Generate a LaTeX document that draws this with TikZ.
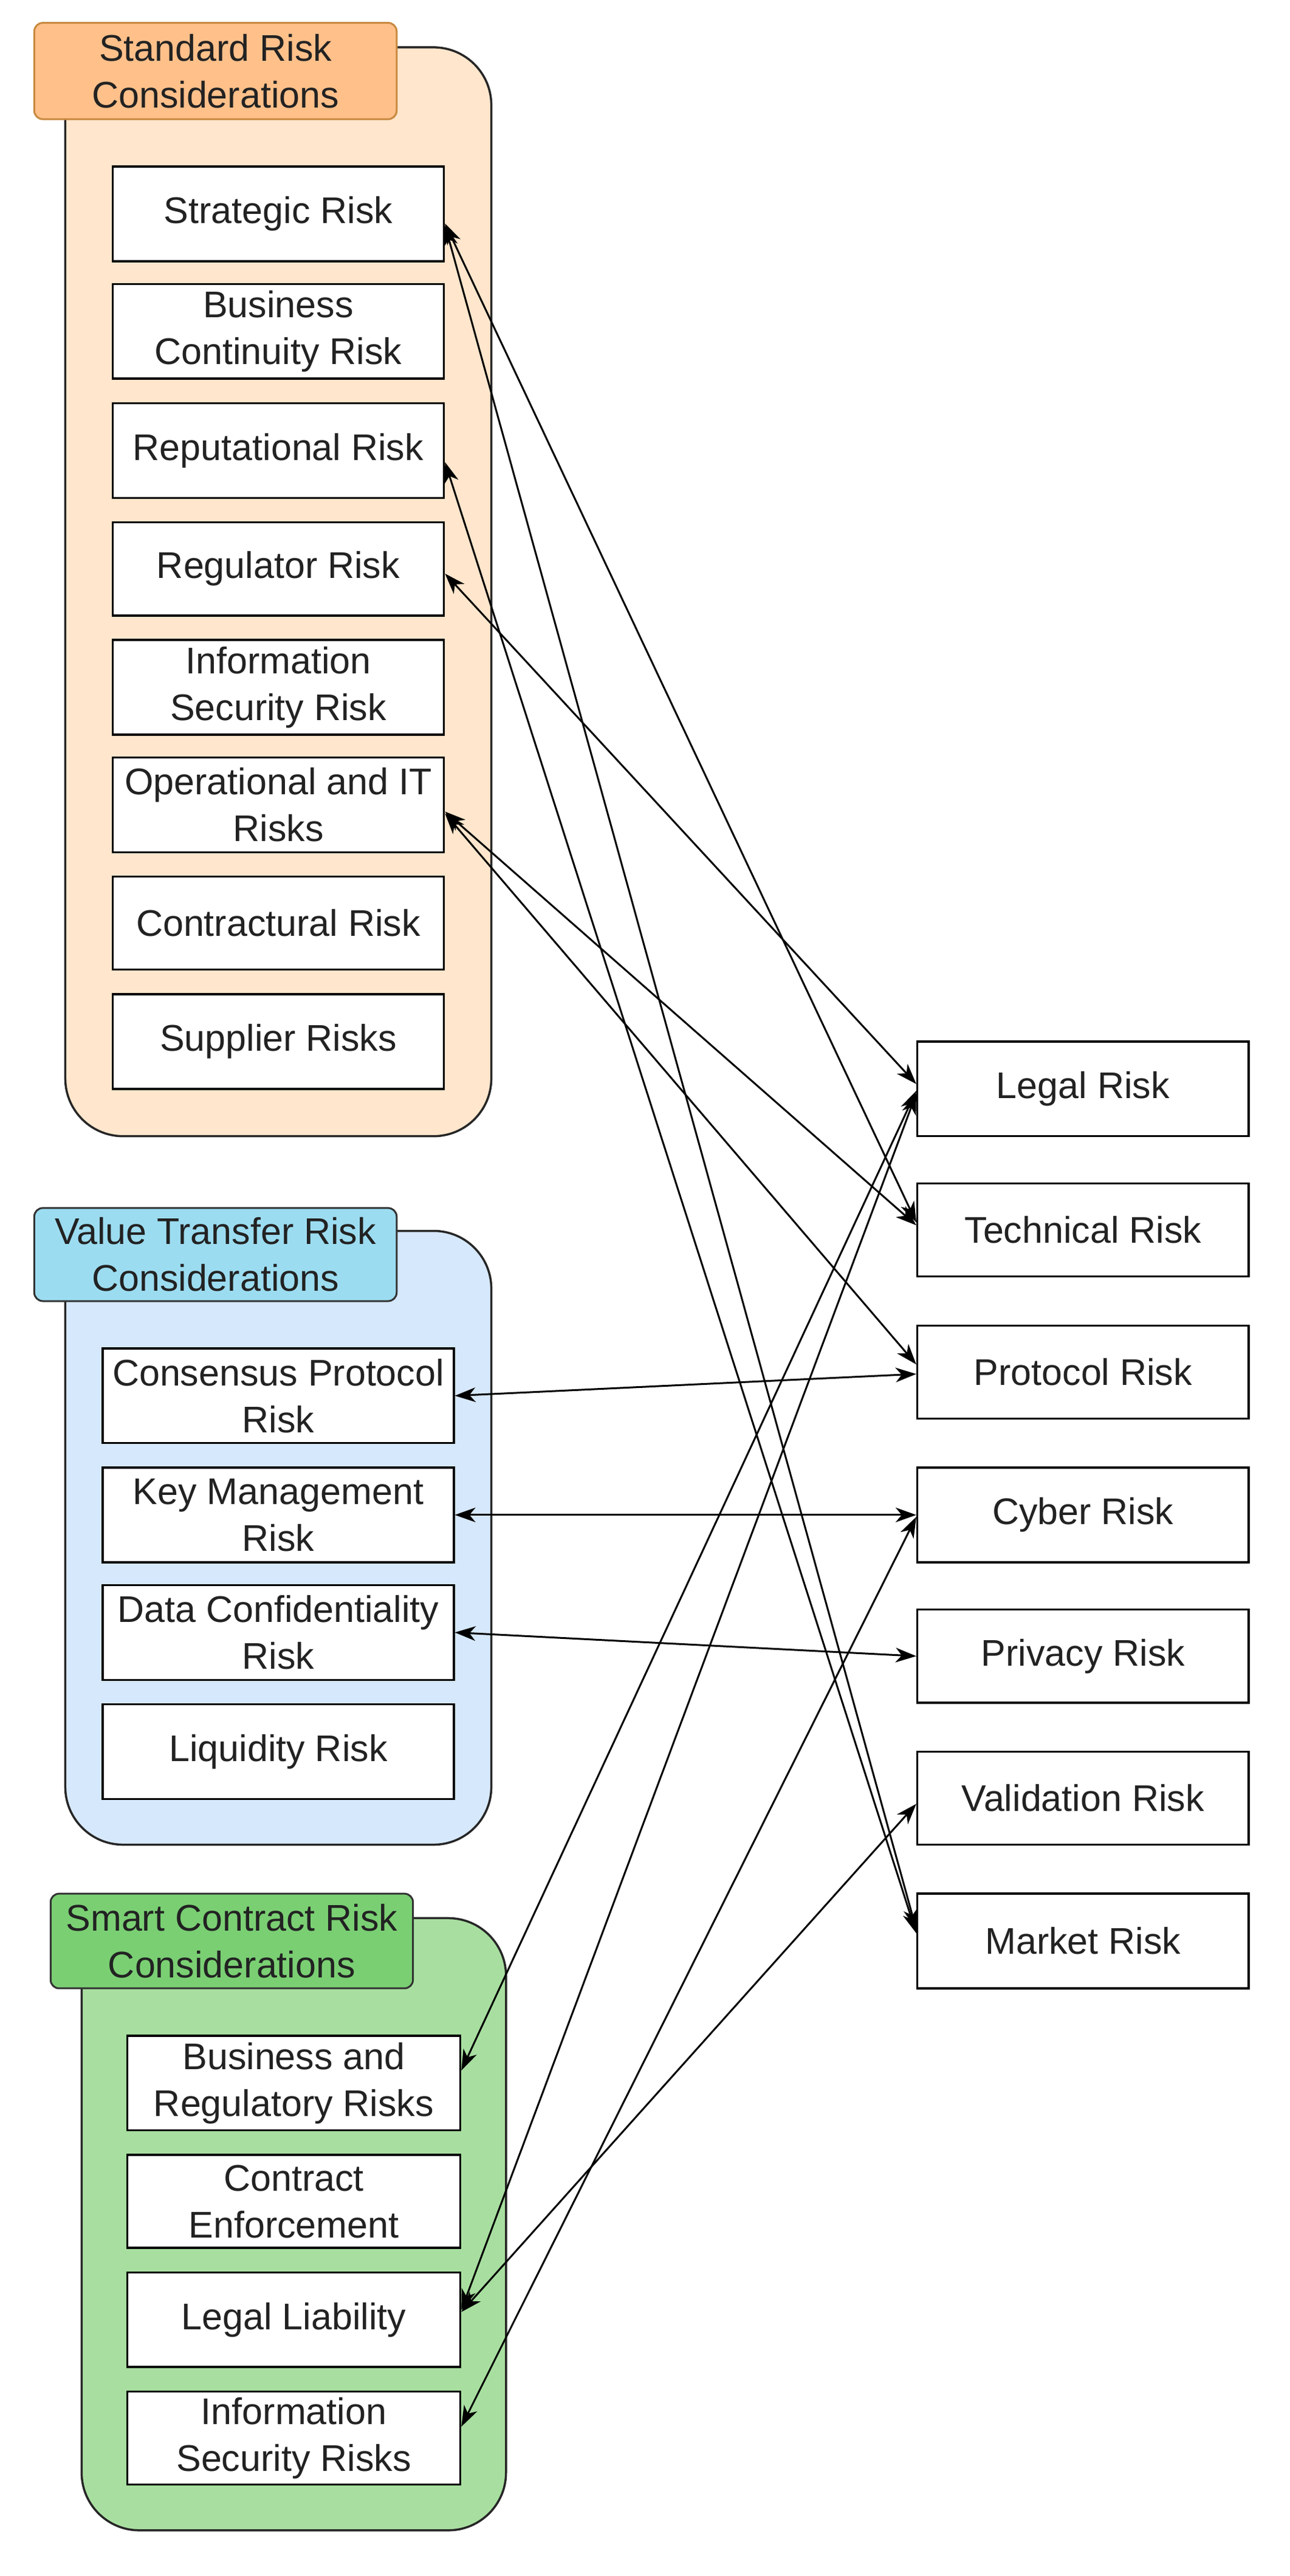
\documentclass[tikz,border=0pt]{standalone}
\usepackage{fontspec}
\setmainfont{Liberation Sans}
\usetikzlibrary{calc,arrows.meta}
\definecolor{stdfill}{HTML}{FFE6CC}
\definecolor{stdhead}{HTML}{FFC08A}
\definecolor{stdheadline}{HTML}{C8893F}
\definecolor{valfill}{HTML}{D6E8FC}
\definecolor{valhead}{HTML}{9CDCF0}
\definecolor{smfill}{HTML}{A8DFA0}
\definecolor{smhead}{HTML}{7ACF73}
\definecolor{txt}{HTML}{222222}
\tikzset{
  box/.style={draw=black, fill=white, line width=3.5pt, align=center, inner sep=0pt,
    font=\fontsize{61}{77}\selectfont, text=txt},
  cont/.style={draw=black!85, line width=3.5pt, rounded corners=95pt},
  head/.style={line width=3pt, rounded corners=14pt},
  htext/.style={align=center, font=\fontsize{61}{77}\selectfont, text=txt, inner sep=0pt},
  link/.style={line width=3pt, {Stealth[length=34pt,width=24pt,inset=10pt]}-{Stealth[length=34pt,width=24pt,inset=10pt]}}
}
\newcommand\bx[6]{\node[box, minimum width={(#4-#2)*2.686pt}, minimum height={(#5-#3)*2.686pt}] (#1) at ({(#2+#4)/2},{(#3+#5)/2}) {#6};}
\newcommand\Rp[2]{($(#1.north east)!#2!(#1.south east)$)}
\newcommand\Lp[2]{($(#1.north west)!#2!(#1.south west)$)}
\begin{document}
\begin{tikzpicture}[x=2.686pt,y=-2.686pt]
\useasboundingbox (0,0) rectangle (790,1578);
% containers
\draw[cont, fill=stdfill] (40,29) rectangle (301,696);
\draw[head, fill=stdhead, draw=stdheadline] (21,14) rectangle (243,73);
\node[htext] (stdh) at (132,43.5) {Standard Risk\\Considerations};
\draw[cont, fill=valfill] (40,754) rectangle (301,1130);
\draw[head, fill=valhead, draw=black!80] (21,740) rectangle (243,797);
\node[htext] (valh) at (132,768.5) {Value Transfer Risk\\Considerations};
\draw[cont, fill=smfill] (50,1175) rectangle (310,1550);
\draw[head, fill=smhead, draw=black!80] (31,1160) rectangle (253,1218);
\node[htext] (smh) at (142,1189) {Smart Contract Risk\\Considerations};
% standard boxes
\bx{strat}{69}{102}{272}{160}{Strategic Risk}
\bx{bcont}{69}{174}{272}{232}{Business\\Continuity Risk}
\bx{reput}{69}{247}{272}{305}{Reputational Risk}
\bx{regul}{69}{320}{272}{377}{Regulator Risk}
\bx{infos}{69}{392}{272}{450}{Information\\Security Risk}
\bx{oper}{69}{464}{272}{522}{Operational and IT\\Risks}
\bx{contr}{69}{537}{272}{594}{Contractural Risk}
\bx{suppl}{69}{609}{272}{667}{Supplier Risks}
% value boxes
\bx{cons}{63}{826}{278}{884}{Consensus Protocol\\Risk}
\bx{keym}{63}{899}{278}{957}{Key Management\\Risk}
\bx{datac}{63}{971}{278}{1029}{Data Confidentiality\\Risk}
\bx{liq}{63}{1044}{278}{1102}{Liquidity Risk}
% smart boxes
\bx{busreg}{78}{1247}{282}{1305}{Business and\\Regulatory Risks}
\bx{cenf}{78}{1320}{282}{1377}{Contract\\Enforcement}
\bx{legl}{78}{1392}{282}{1450}{Legal Liability}
\bx{infr}{78}{1465}{282}{1522}{Information\\Security Risks}
% right boxes
\bx{legal}{562}{638}{765}{696}{Legal Risk}
\bx{tech}{562}{725}{765}{782}{Technical Risk}
\bx{proto}{562}{812}{765}{869}{Protocol Risk}
\bx{cyber}{562}{899}{765}{957}{Cyber Risk}
\bx{priv}{562}{986}{765}{1043}{Privacy Risk}
\bx{valid}{562}{1073}{765}{1130}{Validation Risk}
\bx{market}{562}{1160}{765}{1218}{Market Risk}
% links
\draw[link] \Rp{strat}{0.6} -- \Lp{tech}{0.42};
\draw[link] \Rp{strat}{0.62} -- \Lp{market}{0.38};
\draw[link] \Rp{reput}{0.62} -- \Lp{market}{0.42};
\draw[link] \Rp{regul}{0.55} -- \Lp{legal}{0.45};
\draw[link] \Rp{oper}{0.57} -- \Lp{tech}{0.45};
\draw[link] \Rp{oper}{0.59} -- \Lp{proto}{0.42};
\draw[link] \Rp{cons}{0.5} -- \Lp{proto}{0.52};
\draw[link] \Rp{keym}{0.5} -- \Lp{cyber}{0.5};
\draw[link] \Rp{datac}{0.5} -- \Lp{priv}{0.5};
\draw[link] \Rp{busreg}{0.37} -- \Lp{legal}{0.52};
\draw[link] \Rp{legl}{0.4} -- \Lp{legal}{0.55};
\draw[link] \Rp{legl}{0.42} -- \Lp{valid}{0.56};
\draw[link] \Rp{infr}{0.38} -- \Lp{cyber}{0.52};
\end{tikzpicture}
\end{document}
